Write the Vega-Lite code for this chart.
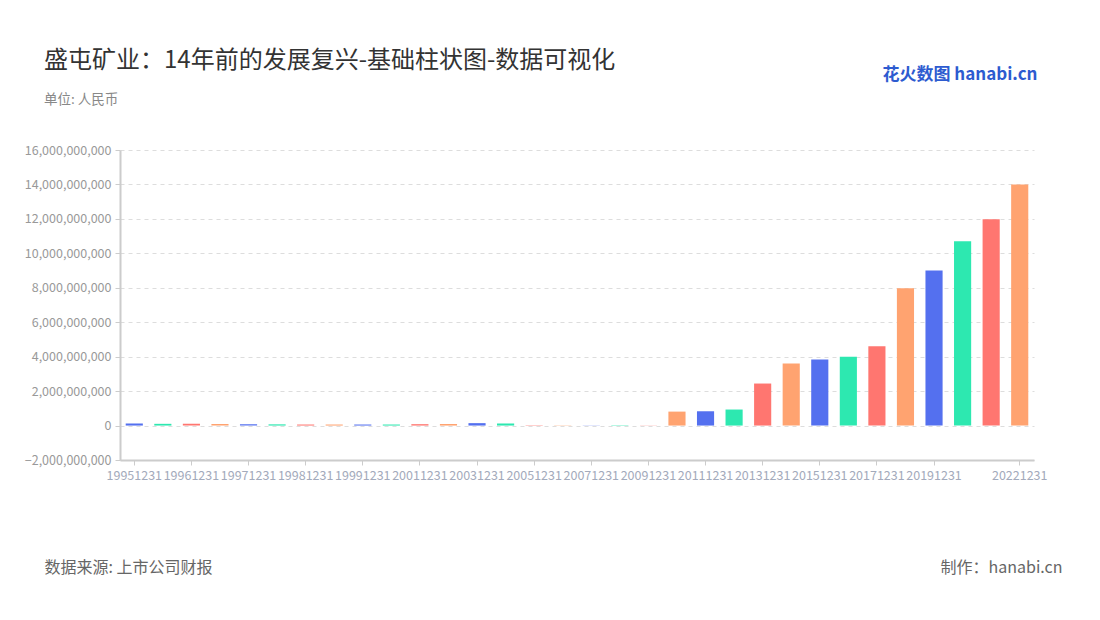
{
  "$schema": "https://vega.github.io/schema/vega-lite/v6.json",
  "width": 914,
  "height": 310,
  "autosize": {"type": "none"},
  "padding": {"left": 120, "top": 150, "right": 66, "bottom": 160},
  "background": "white",
  "config": {"font": "Noto Sans CJK SC", "view": {"stroke": null}},
  "title": {
    "text": "盛屯矿业：14年前的发展复兴-基础柱状图-数据可视化",
    "subtitle": "单位: 人民币",
    "anchor": "start",
    "frame": "group",
    "dx": -76,
    "dy": 83,
    "font": "Noto Sans CJK SC",
    "fontSize": 24,
    "fontWeight": "normal",
    "color": "#333333",
    "subtitleFont": "Noto Sans CJK SC",
    "subtitleFontSize": 13.5,
    "subtitleColor": "#888888",
    "subtitlePadding": 20,
    "offset": 42
  },
  "data": {
    "values": [
      {"date": "19951231", "value": 120000000},
      {"date": "19960630", "value": 100000000},
      {"date": "19961231", "value": 110000000},
      {"date": "19970630", "value": 90000000},
      {"date": "19971231", "value": 80000000},
      {"date": "19980630", "value": 70000000},
      {"date": "19981231", "value": 60000000},
      {"date": "19990630", "value": 60000000},
      {"date": "19991231", "value": 60000000},
      {"date": "20001231", "value": 60000000},
      {"date": "20011231", "value": 80000000},
      {"date": "20021231", "value": 90000000},
      {"date": "20031231", "value": 140000000},
      {"date": "20041231", "value": 120000000},
      {"date": "20051231", "value": 20000000},
      {"date": "20061231", "value": 15000000},
      {"date": "20071231", "value": 10000000},
      {"date": "20081231", "value": 20000000},
      {"date": "20091231", "value": 10000000},
      {"date": "20101231", "value": 810000000},
      {"date": "20111231", "value": 830000000},
      {"date": "20121231", "value": 930000000},
      {"date": "20131231", "value": 2440000000},
      {"date": "20141231", "value": 3600000000},
      {"date": "20151231", "value": 3840000000},
      {"date": "20161231", "value": 4000000000},
      {"date": "20171231", "value": 4600000000},
      {"date": "20181231", "value": 7970000000},
      {"date": "20191231", "value": 9000000000},
      {"date": "20201231", "value": 10700000000},
      {"date": "20211231", "value": 11980000000},
      {"date": "20221231", "value": 14000000000}
    ]
  },
  "layer": [
    {
      "mark": {"type": "bar"},
      "encoding": {
        "x": {
          "field": "date",
          "type": "nominal",
          "sort": null,
          "scale": {"paddingInner": 0.4, "paddingOuter": 0.2},
          "axis": {
            "values": ["19951231", "19961231", "19971231", "19981231", "19991231", "20011231", "20031231", "20051231", "20071231", "20091231", "20111231", "20131231", "20151231", "20171231", "20191231", "20221231"],
            "labelAngle": 0,
            "labelOverlap": false,
            "labelFontSize": 12.5,
            "labelColor": "#a3aabb",
            "labelPadding": 4,
            "tickColor": "#cccccc",
            "tickSize": 5,
            "domainColor": "#cccccc",
            "domainWidth": 2,
            "title": "数据来源: 上市公司财报",
            "titleX": -76,
            "titleY": 107,
            "titleAlign": "left",
            "titleBaseline": "middle",
            "titleFontSize": 16,
            "titleFontWeight": "normal",
            "titleColor": "#666666"
          }
        },
        "y": {
          "field": "value",
          "type": "quantitative",
          "scale": {"domain": [-2000000000, 16000000000], "nice": false},
          "axis": {
            "values": [-2000000000, 0, 2000000000, 4000000000, 6000000000, 8000000000, 10000000000, 12000000000, 14000000000, 16000000000],
            "format": ",.0f",
            "labelFontSize": 12.5,
            "labelColor": "#999999",
            "labelPadding": 4,
            "tickColor": "#cccccc",
            "tickSize": 5,
            "domainColor": "#cccccc",
            "domainWidth": 2,
            "grid": true,
            "gridDash": [4, 4],
            "gridColor": "#dddddd",
            "title": "制作：hanabi.cn",
            "titleAngle": 0,
            "titleX": 942,
            "titleY": 417,
            "titleAlign": "right",
            "titleBaseline": "middle",
            "titleFontSize": 16,
            "titleFontWeight": "normal",
            "titleColor": "#666666"
          }
        },
        "color": {
          "field": "date",
          "type": "nominal",
          "scale": {"range": ["#5470ef", "#2de8b0", "#ff7670", "#ffa370"]},
          "legend": null
        }
      }
    },
    {
      "mark": {"type": "bar", "opacity": 0},
      "encoding": {
        "x": {"field": "date", "type": "nominal", "sort": null},
        "y": {
          "field": "value",
          "type": "quantitative",
          "axis": {
            "orient": "right",
            "domain": false,
            "ticks": false,
            "labels": false,
            "grid": false,
            "title": "花火数图 hanabi.cn",
            "titleAngle": 0,
            "titleX": 3,
            "titleY": -76,
            "titleAlign": "right",
            "titleBaseline": "middle",
            "titleFontSize": 17,
            "titleFontWeight": "bold",
            "titleColor": "#2d5bd0"
          }
        }
      }
    }
  ],
  "resolve": {"scale": {"y": "independent"}}
}
